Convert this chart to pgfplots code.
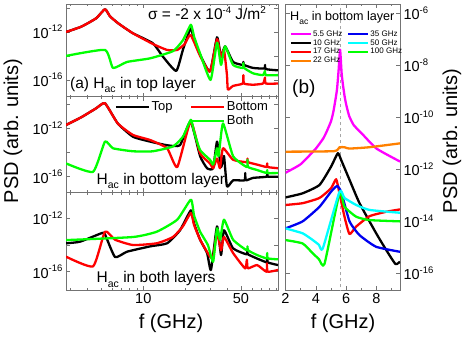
\documentclass[border=0pt]{standalone}
\usepackage{pgfplots}
\pgfplotsset{compat=1.18}
\usepackage{fontspec}
\setmainfont{Liberation Sans}
\definecolor{cgreen}{RGB}{0,255,0}
\definecolor{cmag}{RGB}{255,0,255}
\definecolor{corange}{RGB}{255,128,0}
\definecolor{cblue}{RGB}{0,0,240}
\definecolor{ccyan}{RGB}{0,255,255}
\newcommand{\fs}[1]{\fontsize{#1}{#1}\selectfont}
\newcommand{\tp}[1]{10\raisebox{0.45em}{\fs{9.5}#1}}
\newcommand{\ac}{\raisebox{-0.28em}{\fs{10.5}ac}}
\newcommand{\acs}{\raisebox{-0.28em}{\fs{8.5}ac}}
\pgfplotsset{
  every axis/.append style={scale only axis, axis line style={black!55, line width=0.8pt},
    tick style={black!55, line width=0.6pt}, tick align=inside, major tick length=4pt, minor tick length=2.2pt,
    tick label style={font=\fs{14.5}}, clip=true},
  lp/.style={xmin=2.8, xmax=92, width=212pt, xtick={10,50},
    minor xtick={3,4,5,6,7,8,9,20,30,40,60,70,80,90}, xticklabels={},
    ytick={1e-16,1e-14,1e-12,1e-10}, yticklabels={\tp{-16},{},\tp{-12},{}}, anchor=north west},
  cb/.style={black, line width=2.3pt, line join=round, smooth, tension=0.3},
  cr/.style={red, line width=2.3pt, line join=round, smooth, tension=0.3},
  cg/.style={cgreen, line width=2.3pt, line join=round, smooth, tension=0.3},
  rc/.style={#1, line width=2.3pt, line join=round, smooth, tension=0.3, forget plot},
}
\begin{document}
\begin{tikzpicture}
\useasboundingbox (0,0) rectangle (469pt,341pt);
% ---------------- top panel
\begin{loglogaxis}[lp, at={(66pt,337pt)}, height=92.7pt, ymin=3.98e-18, ymax=2.14e-10]
\addplot[cb] coordinates {(2.8,1e-12) (3.6,2.75e-12) (4.6,1.38e-11) (5.32,7.94e-11) (5.78,2.0e-11) (6.6,5.37e-12) (8.4,7.94e-13) (11.7,1.15e-13) (13.8,8.91e-15) (17.2,5.62e-16) (19.2,3.16e-14) (21.8,2.0e-12) (23.0,2.51e-13) (25.5,1.26e-14) (30.0,5.01e-16) (33.7,3.55e-13) (36.0,8.91e-15) (38.5,6.31e-14) (43.9,3.16e-15) (51.5,1.78e-15) (52.0,3.16e-15) (52.6,1.78e-15) (61.0,1e-15) (73.5,8.91e-16) (74.3,1.78e-15) (75.2,7.94e-16) (92,6.31e-16)};
\addplot[cr] coordinates {(2.8,1e-12) (3.6,2.75e-12) (4.6,1.38e-11) (5.32,7.94e-11) (5.78,2.0e-11) (6.6,5.37e-12) (8.4,7.94e-13) (11.7,1e-13) (14.8,3.16e-14) (17.5,3.16e-14) (19.8,1e-13) (21.8,5.62e-13) (25.5,1e-14) (30.0,5.01e-16) (33.7,2.51e-13) (35.8,7.94e-15) (37.8,3.16e-14) (39.7,2.51e-16) (40.3,1.58e-17) (43.9,3.16e-17) (51.5,5.01e-17) (52.0,2.51e-16) (52.6,5.01e-17) (61,3.98e-17) (71.9,5.01e-17) (74.3,1.58e-16) (75.2,5.01e-17) (92,5.01e-17)};
\addplot[cg] coordinates {(2.8,1e-14) (5.32,3.16e-14) (6.07,1e-15) (7.65,3.16e-15) (11.2,6.31e-15) (16.3,2.51e-14) (19.2,2.0e-13) (21.9,3.98e-12) (23.1,3.98e-13) (25.5,1.58e-14) (30.3,1e-16) (33.7,1.26e-13) (36.0,1.78e-15) (38.5,6.31e-14) (43.9,1.78e-15) (51.5,1e-15) (52.0,2.51e-15) (52.6,1e-15) (61.0,3.55e-16) (71.9,2.51e-16) (74.3,5.62e-16) (75.2,2.51e-16) (92,2.51e-16)};
\end{loglogaxis}
% ---------------- middle panel
\begin{loglogaxis}[lp, at={(66pt,244.3pt)}, height=95.6pt, ymin=5.13e-18, ymax=4.07e-10,
  legend columns=2, legend cell align=left,
  legend image code/.code={\draw[#1] (0pt,0pt) -- (33pt,0pt);},
  legend style={draw=none, fill=none, at={(0.215,0.985)}, anchor=north west, font=\fs{13},
    nodes={inner sep=1.5pt}, row sep=0pt, /tikz/every even column/.append style={column sep=16pt}}]
\addlegendimage{black, line width=2.3pt}\addlegendentry{Top}
\addlegendimage{red, line width=2.3pt}\addlegendentry{Bottom}
\addlegendimage{empty legend}\addlegendentry{}
\addlegendimage{cgreen, line width=2.3pt}\addlegendentry{Both}
\addplot[cb, forget plot] coordinates {(2.8,1.86e-12) (3.6,8.13e-12) (4.6,4.47e-11) (5.32,1.17e-10) (6.57,2.51e-12) (8.44,2.0e-13) (11.2,7.94e-14) (14.8,3.98e-14) (18.3,3.98e-14) (21.8,3.55e-12) (25.5,5.01e-15) (28.6,5.01e-16) (31.6,5.01e-16) (33.7,7.94e-14) (36.0,6.31e-16) (37.8,5.01e-15) (39.7,1.58e-17) (43.9,5.01e-17) (53.0,5.01e-17) (53.6,2.0e-16) (54.2,5.01e-17) (61,7.94e-17) (76.5,1e-16) (77.2,2.0e-16) (77.8,1e-16) (92,1e-16)};
\addplot[cr, forget plot] coordinates {(2.8,1.86e-12) (3.6,8.13e-12) (4.6,4.47e-11) (5.32,1.17e-10) (6.57,2.51e-12) (8.44,2.82e-13) (11.2,1.07e-13) (14.8,2.24e-14) (17.5,6.31e-16) (21.8,3.55e-12) (25.5,8.51e-15) (30.0,1.26e-15) (31.6,5.01e-16) (33.7,3.16e-15) (35.4,5.01e-16) (37.2,2.24e-14) (43.9,2.51e-15) (55.0,1.58e-15) (55.6,3.16e-15) (56.2,1.58e-15) (65.2,1e-15) (76.5,6.31e-16) (77.0,1.26e-15) (77.6,6.31e-16) (92,5.01e-16)};
\addplot[cg, forget plot] coordinates {(2.8,1.26e-15) (4.37,2.51e-16) (5.32,7.94e-14) (6.07,2.24e-14) (8.44,1.26e-14) (11.7,1.26e-14) (16.3,3.16e-14) (19.2,2.0e-13) (21.9,5.01e-12) (23.1,5.01e-13) (25.5,1.58e-14) (30.0,2.51e-15) (31.6,1e-15) (33.7,2.24e-14) (34.6,5.01e-15) (37.2,2.51e-12) (43.9,5.01e-15) (55.0,6.31e-16) (55.6,2.51e-15) (56.2,6.31e-16) (65.2,3.55e-16) (76.5,2.0e-16) (77.0,3.55e-16) (77.6,2.0e-16) (92,2.0e-16)};
\end{loglogaxis}
% ---------------- bottom panel
\begin{loglogaxis}[lp, at={(66pt,148.7pt)}, height=97.7pt, ymin=4.27e-18, ymax=8.91e-11, xticklabels={10,50}]
\addplot[cb] coordinates {(2.8,1.35e-14) (3.53,1.78e-14) (5.07,7.94e-14) (5.32,6.31e-14) (6.28,1.26e-15) (7.65,3.16e-15) (11.2,7.94e-15) (14.8,1.35e-14) (18.3,1.26e-13) (21.9,3.98e-12) (23.1,3.98e-13) (25.5,2.51e-14) (28.6,2.51e-15) (30.5,1.35e-16) (33.7,2.51e-13) (36.0,1.78e-15) (37.8,1.26e-13) (43.9,5.62e-15) (55.0,2.0e-15) (55.6,5.01e-15) (56.2,2.0e-15) (76.5,5.01e-16) (77.0,1.26e-15) (77.6,5.01e-16) (92,3.16e-16)};
\addplot[cr] coordinates {(2.8,1.35e-15) (4.37,2.51e-16) (5.32,1e-13) (6.28,2.51e-14) (8.44,1e-14) (12.5,1.35e-14) (16.3,3.98e-14) (19.2,2.51e-13) (21.9,2.51e-12) (23.1,3.16e-13) (25.5,2.51e-14) (30.0,1.35e-15) (31.6,1.26e-15) (33.7,7.94e-14) (36.0,3.98e-15) (37.8,3.98e-14) (43.9,2.51e-15) (53.5,1.78e-16) (55.1,7.94e-16) (56.0,1.78e-16) (65.2,3.16e-16) (76.0,1e-16) (76.8,4.27e-16) (77.6,1e-16) (92,1.35e-16)};
\addplot[cg] coordinates {(2.8,2.34e-14) (8.44,3.98e-14) (12.5,1e-13) (17.5,7.94e-13) (21.9,2.51e-11) (23.1,1.58e-12) (25.5,1e-13) (29.0,1e-14) (31.6,5.62e-16) (33.7,1.78e-13) (35.4,2.51e-14) (37.8,7.94e-13) (43.9,2.51e-14) (55.0,3.98e-15) (55.6,7.94e-15) (56.2,3.98e-15) (65.2,1.78e-15) (76.5,1e-15) (77.0,2.51e-15) (77.6,1e-15) (92,8.51e-16)};
\end{loglogaxis}
% ---------------- right panel
\begin{semilogyaxis}[at={(285.5pt,337pt)}, anchor=north west, width=114.5pt, height=286pt,
  xmin=2, xmax=9.55, ymin=2.29e-17, ymax=2.29e-6,
  xtick={2,4,6,8}, xticklabels={2,4,6,8}, minor xtick={3,5,7,9},
  ytick={1e-16,1e-14,1e-12,1e-10,1e-8,1e-6},
  yticklabels={\tp{-16},\tp{-14},\tp{-12},\tp{-10},\tp{-8},\tp{-6}},
  yticklabel pos=right,
  legend columns=2, legend cell align=left,
  legend image code/.code={\draw[#1] (0pt,0pt) -- (20pt,0pt);},
  legend style={draw=none, fill=none, at={(0.01,0.918)}, anchor=north west, font=\fs{8},
    nodes={inner sep=0.9pt}, row sep=0pt, /tikz/every even column/.append style={column sep=4pt}}]
\addlegendimage{cmag, line width=2.3pt}\addlegendentry{5.5 GHz}
\addlegendimage{cblue, line width=2.3pt}\addlegendentry{35 GHz}
\addlegendimage{black, line width=2.3pt}\addlegendentry{10 GHz}
\addlegendimage{ccyan, line width=2.3pt}\addlegendentry{50 GHz}
\addlegendimage{red, line width=2.3pt}\addlegendentry{17 GHz}
\addlegendimage{cgreen, line width=2.3pt}\addlegendentry{100 GHz}
\addlegendimage{corange, line width=2.3pt}\addlegendentry{22 GHz}
\addplot[gray!70, dashed, line width=0.5pt, forget plot] coordinates {(5.6,1e-20) (5.6,1e-3)};
\addplot[rc=cmag] coordinates {(2.0,7.41e-13) (3.0,1.58e-12) (4.0,6.31e-12) (4.5,1.58e-11) (4.75,3.16e-11) (5.0,7.08e-11) (5.15,1.58e-10) (5.3,5.01e-10) (5.4,1.26e-9) (5.5,6.31e-9) (5.6,3.98e-8) (5.7,5.01e-9) (5.8,1.58e-9) (5.9,6.31e-10) (6.0,3.16e-10) (6.2,1.12e-10) (6.5,5.01e-11) (7.0,2.51e-11) (8.0,6.31e-12) (9.55,2.0e-12)};
\addplot[rc=corange] coordinates {(2.0,4.79e-12) (5.2,5.01e-12) (5.56,7.08e-12) (5.9,7.08e-12) (6.2,6.31e-12) (7.5,7.08e-12) (9.55,1e-11)};
\addplot[rc=black] coordinates {(2.0,8.32e-14) (3.13,1.2e-13) (4.24,2.51e-13) (5.0,1.26e-12) (5.45,4.17e-12) (5.67,2.29e-12) (6.22,3.98e-13) (6.88,5.01e-14) (7.98,3.47e-15) (8.64,7.94e-16) (9.25,2.29e-16) (9.55,2.82e-16)};
\addplot[rc=red] coordinates {(2.0,4.27e-14) (3.13,5.01e-14) (4.24,7.94e-14) (5.0,1.86e-13) (5.34,4.17e-13) (5.56,1.2e-13) (5.89,1.51e-14) (6.22,3.24e-15) (6.66,6.31e-15) (7.54,1.58e-14) (8.64,2.34e-14) (9.55,2.88e-14)};
\addplot[rc=cblue] coordinates {(2.0,5.37e-15) (3.13,1e-14) (4.24,3.63e-14) (5.0,1.38e-13) (5.4,2.29e-13) (5.67,1.38e-13) (6.22,1e-14) (6.88,2.95e-15) (7.98,1.05e-15) (9.55,6.76e-16)};
\addplot[rc=cgreen] coordinates {(2.0,1.91e-15) (3.13,1.41e-15) (3.8,5.89e-16) (4.2,3.55e-16) (4.57,2.29e-16) (5.56,1.2e-13) (5.89,3.63e-14) (6.66,1.51e-14) (7.54,1.12e-14) (9.55,1e-14)};
\addplot[rc=ccyan] coordinates {(2.0,5.37e-15) (3.13,3.47e-15) (3.8,1.91e-15) (4.2,1.26e-15) (4.46,9.12e-16) (5.56,1.38e-13) (5.89,7.94e-14) (6.66,4.27e-14) (7.54,2.75e-14) (9.55,2.14e-14)};
\end{semilogyaxis}
% ---------------- texts
\node[anchor=base, font=\fs{15.5}] at (207pt,321pt) {σ = -2 x \tp{-4} J/m\raisebox{0.45em}{\fs{10}2}};
\node[anchor=base west, font=\fs{15.5}, inner sep=0pt] at (70pt,252.7pt) {(a) H\ac{} in top layer};
\node[anchor=base west, font=\fs{15.5}, inner sep=0pt] at (96.5pt,157pt) {H\ac{} in bottom layer};
\node[anchor=base west, font=\fs{15.5}, inner sep=0pt] at (96.5pt,58.3pt) {H\ac{} in both layers};
\node[anchor=base west, font=\fs{19}, inner sep=0pt] at (292pt,247.7pt) {(b)};
\node[anchor=base west, font=\fs{12.6}, inner sep=0pt] at (290pt,320.3pt) {H\acs{} in bottom layer};
\node[anchor=base, font=\fs{20}, inner sep=0pt] at (171pt,12.7pt) {f (GHz)};
\node[anchor=base, font=\fs{20}, inner sep=0pt] at (343pt,12.7pt) {f (GHz)};
\node[rotate=90, font=\fs{20}, inner sep=0pt] at (13pt,210pt) {PSD (arb. units)};
\node[rotate=90, font=\fs{20}, inner sep=0pt] at (452pt,200pt) {PSD (arb. units)};
\end{tikzpicture}
\end{document}
